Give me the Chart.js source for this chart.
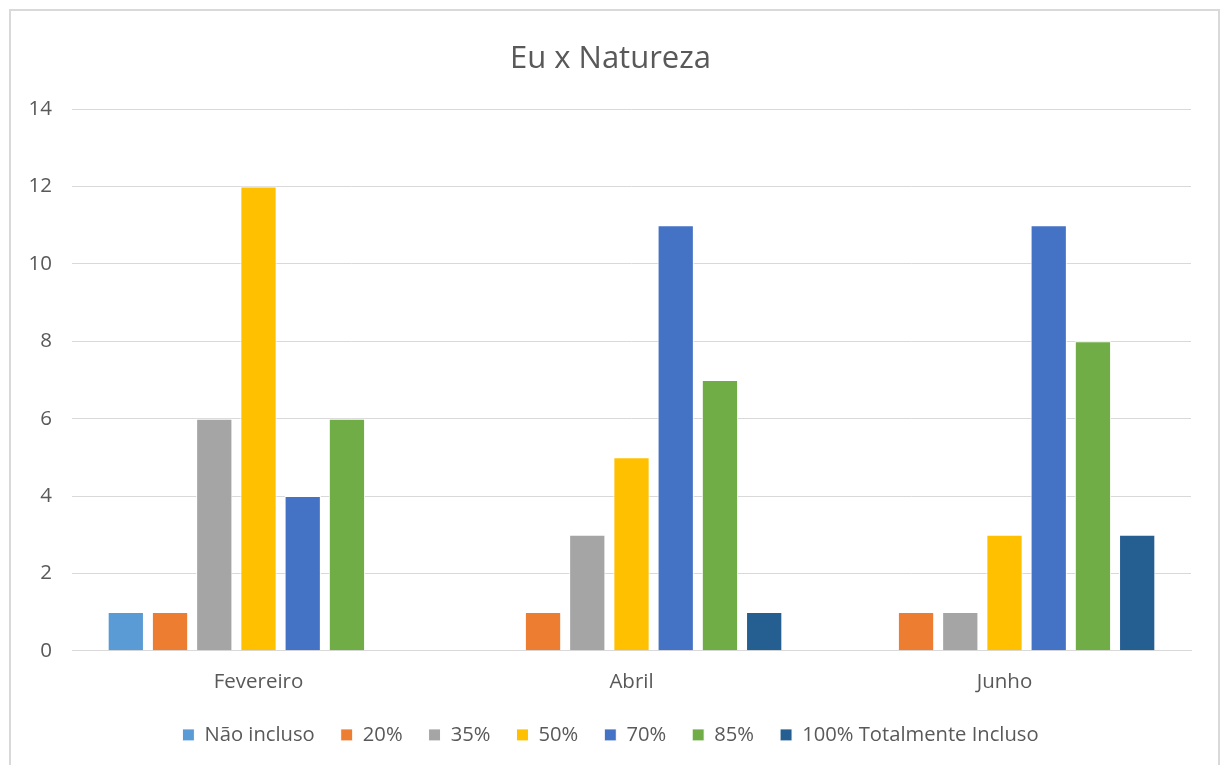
<!DOCTYPE html>
<html>
<head>
<meta charset="utf-8">
<script src="https://cdn.jsdelivr.net/npm/chart.js@4/dist/chart.umd.min.js"></script>
<style>
    html, body { margin: 0; padding: 0; background: #fff; }
    #wrap { width: 1221px; height: 765px; position: relative; }
</style>
</head>
<body>
<div id="wrap"><canvas id="chart" width="1221" height="765"></canvas></div>
<script>
const categories = ["Fevereiro", "Abril", "Junho"];
const seriesNames = ["Não incluso", "20%", "35%", "50%", "70%", "85%", "100% Totalmente Incluso"];
const seriesColors = ["#5B9BD5", "#ED7D31", "#A5A5A5", "#FFC000", "#4472C4", "#70AD47", "#255E91"];

const naoIncluso = [1, 0, 0];
const pct20 = [1, 1, 1];
const pct35 = [6, 3, 1];
const pct50 = [12, 5, 3];
const pct70 = [4, 11, 11];
const pct85 = [6, 7, 8];
const pct100 = [0, 1, 3];

const yTicks = [0, 2, 4, 6, 8, 10, 12, 14];

const allValues = [naoIncluso, pct20, pct35, pct50, pct70, pct85, pct100];

const fontFamily = "'Open Sans', Lato, sans-serif";
const textColor = "#595959";

// outer frame like the Excel chart area
const framePlugin = {
    id: "frame",
    beforeDraw(chart) {
        const ctx = chart.ctx;
        ctx.save();
        ctx.fillStyle = "#fff";
        ctx.fillRect(0, 0, chart.width, chart.height);
        ctx.strokeStyle = "#d9d9d9";
        ctx.lineWidth = 2;
        ctx.strokeRect(10, 10, 1209, 780);
        ctx.restore();
    }
};

const datasets = seriesNames.map((name, i) => ({
    label: name,
    data: allValues[i],
    backgroundColor: seriesColors[i],
    borderColor: "#ffffff",
    borderWidth: 1,
    categoryPercentage: 0.83,
    barPercentage: 0.82
}));

new Chart(document.getElementById("chart"), {
    type: "bar",
    data: {
        labels: categories,
        datasets: datasets
    },
    options: {
        responsive: false,
        animation: false,
        layout: {
            padding: { left: 30, right: 30, top: 30, bottom: 10 }
        },
        plugins: {
            title: {
                display: true,
                text: "Eu x Natureza",
                color: textColor,
                font: { family: fontFamily, size: 31, weight: "normal" },
                padding: { top: 11, bottom: 31 }
            },
            legend: {
                position: "bottom",
                labels: {
                    color: textColor,
                    font: { family: fontFamily, size: 20.2 },
                    boxWidth: 12,
                    boxHeight: 12,
                    padding: 26
                }
            },
            tooltip: { enabled: false }
        },
        scales: {
            x: {
                grid: { display: false, drawTicks: false },
                border: { color: "#d9d9d9" },
                afterFit(axis) {
                    axis.height = 48;
                },
                ticks: {
                    color: textColor,
                    font: { family: fontFamily, size: 20.5 },
                    padding: 19
                }
            },
            y: {
                min: 0,
                max: 14,
                afterBuildTicks(axis) {
                    axis.ticks = yTicks.map(v => ({ value: v }));
                },
                afterFit(axis) {
                    axis.width = 42;
                },
                grid: { color: "#d9d9d9", drawTicks: false },
                border: { display: false },
                ticks: {
                    color: textColor,
                    font: { family: fontFamily, size: 20.5 },
                    padding: 20
                }
            }
        }
    },
    plugins: [framePlugin]
});
</script>
</body>
</html>
